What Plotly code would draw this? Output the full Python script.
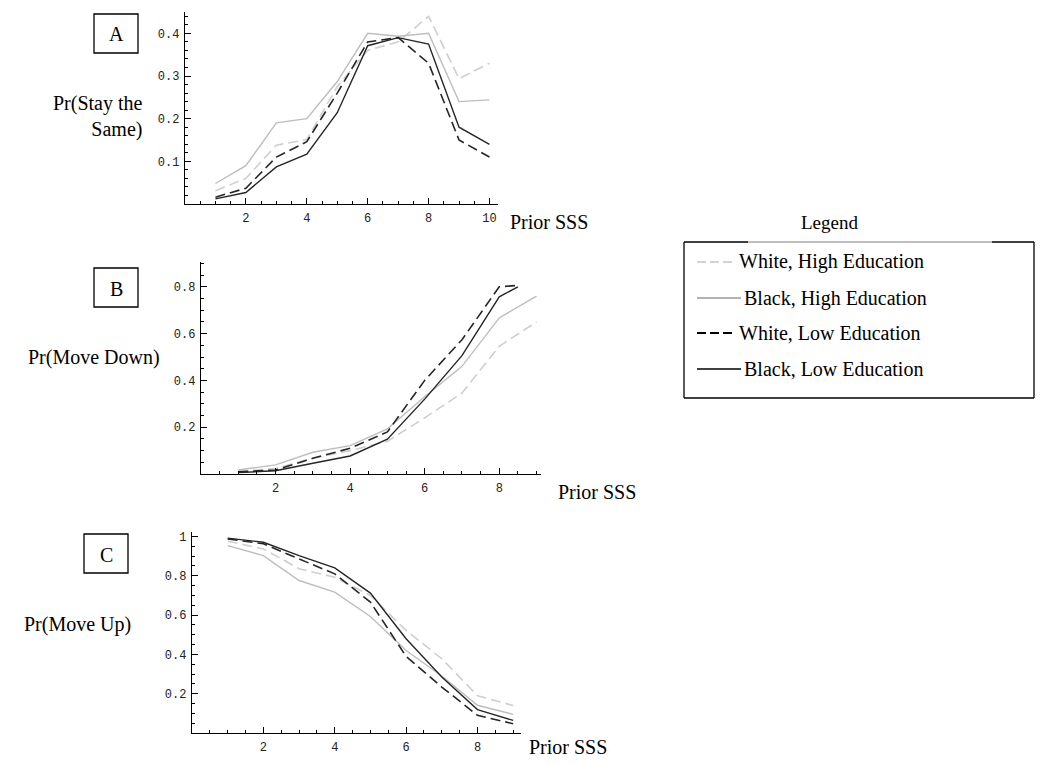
"""Transition probabilities by prior SSS, three stacked panels"""
import plotly.graph_objects as go

W, H = 1050, 765
PAGE_PAD = 8  # browser default body margin around the plot div

# Series order: White High Ed, Black High Ed, White Low Ed, Black Low Ed
series_names = ["White, High Education", "Black, High Education",
                "White, Low Education", "Black, Low Education"]

# Panel A: Pr(Stay the Same)
a_x = [1, 2, 3, 4, 5, 6, 7, 8, 9, 10]
a_white_high = [0.031, 0.060, 0.138, 0.151, 0.275, 0.360, 0.380, 0.440, 0.294, 0.330]
a_black_high = [0.048, 0.090, 0.190, 0.200, 0.287, 0.400, 0.393, 0.400, 0.240, 0.244]
a_white_low = [0.016, 0.037, 0.110, 0.146, 0.260, 0.380, 0.390, 0.330, 0.150, 0.110]
a_black_low = [0.012, 0.027, 0.087, 0.117, 0.214, 0.371, 0.390, 0.375, 0.180, 0.140]

# Panel B: Pr(Move Down) (dark lines leave the frame past x = 8.5)
b_x = [1, 2, 3, 4, 5, 6, 7, 8, 9]
b_x_dark = [1, 2, 3, 4, 5, 6, 7, 8, 8.5]
b_white_high = [0.010, 0.024, 0.067, 0.100, 0.140, 0.240, 0.346, 0.546, 0.650]
b_black_high = [0.017, 0.039, 0.093, 0.121, 0.193, 0.330, 0.460, 0.667, 0.760]
b_white_low = [0.009, 0.017, 0.067, 0.110, 0.180, 0.400, 0.574, 0.800, 0.806]
b_black_low = [0.006, 0.014, 0.046, 0.077, 0.149, 0.320, 0.506, 0.757, 0.800]

# Panel C: Pr(Move Up)
c_x = [1, 2, 3, 4, 5, 6, 7, 8, 9]
c_white_high = [0.976, 0.937, 0.836, 0.793, 0.700, 0.522, 0.378, 0.190, 0.140]
c_black_high = [0.954, 0.903, 0.776, 0.717, 0.593, 0.420, 0.290, 0.141, 0.095]
c_white_low = [0.988, 0.963, 0.886, 0.810, 0.666, 0.390, 0.234, 0.090, 0.047]
c_black_low = [0.992, 0.971, 0.903, 0.840, 0.712, 0.480, 0.285, 0.119, 0.064]

x_ticks_a = [2, 4, 6, 8, 10]
x_ticks_bc = [2, 4, 6, 8]
y_ticks_a = [0.1, 0.2, 0.3, 0.4]
y_ticks_b = [0.2, 0.4, 0.6, 0.8]
y_ticks_c = [0.2, 0.4, 0.6, 0.8, 1]

LIGHT_DASH = "#cfcfcf"
LIGHT_SOLID = "#bdbdbd"
DARK = "#262626"
DASH = "10px,5px"
SERIF = "Liberation Serif"
MONO = "Liberation Mono"


def px(x):
    return (x - PAGE_PAD) / W


def py(y):
    return 1 - (y - PAGE_PAD) / H


styles = [
    dict(color=LIGHT_DASH, width=1.6, dash=DASH),
    dict(color=LIGHT_SOLID, width=1.4),
    dict(color=DARK, width=1.6, dash=DASH),
    dict(color=DARK, width=1.4),
]

fig = go.Figure()

panels = [
    ("", [a_x, a_x, a_x, a_x], [a_white_high, a_black_high, a_white_low, a_black_low]),
    ("2", [b_x, b_x, b_x_dark, b_x_dark], [b_white_high, b_black_high, b_white_low, b_black_low]),
    ("3", [c_x, c_x, c_x, c_x], [c_white_high, c_black_high, c_white_low, c_black_low]),
]
for suffix, xs, ys in panels:
    for name, x, y, style in zip(series_names, xs, ys, styles):
        fig.add_trace(go.Scatter(x=x, y=y, mode="lines", name=name, line=style,
                                 xaxis="x" + suffix, yaxis="y" + suffix,
                                 showlegend=False, hoverinfo="skip"))


def axis_style(tickvals, minor_dtick):
    return dict(
        showline=True, linecolor="black", linewidth=1.3,
        showgrid=False, zeroline=False,
        ticks="inside", ticklen=6, tickwidth=1.3, tickcolor="black",
        tickvals=tickvals, ticklabelstandoff=2,
        tickfont=dict(family=MONO, size=12, color="#222222"),
        minor=dict(dtick=minor_dtick, tick0=0, ticks="inside", ticklen=3,
                   tickwidth=1.2, tickcolor="black", showgrid=False),
        fixedrange=True,
    )


fig.update_layout(
    width=W, height=H,
    margin=dict(l=0, r=0, t=0, b=0),
    paper_bgcolor="white", plot_bgcolor="white",
    xaxis=dict(domain=[px(185), px(498)], range=[0, 10.28], anchor="y",
               **axis_style(x_ticks_a, 0.5)),
    yaxis=dict(domain=[py(204), py(12)], range=[0, 0.45], anchor="x",
               **axis_style(y_ticks_a, 0.02)),
    xaxis2=dict(domain=[px(201), px(541)], range=[0, 9.12], anchor="y2",
                **axis_style(x_ticks_bc, 0.5)),
    yaxis2=dict(domain=[py(474), py(262)], range=[0, 0.906], anchor="x2",
                **axis_style(y_ticks_b, 0.05)),
    xaxis3=dict(domain=[px(192), px(521)], range=[0, 9.22], anchor="y3",
                **axis_style(x_ticks_bc, 0.5)),
    yaxis3=dict(domain=[py(733), py(532)], range=[0, 1.023], anchor="x3",
                **axis_style(y_ticks_c, 0.05)),
)

shapes = []
annotations = []


def text(s, x, y, xanchor="left", align="left", size=20):
    annotations.append(dict(text=s, x=px(x), y=py(y), xref="paper", yref="paper",
                            xanchor=xanchor, yanchor="middle", align=align,
                            showarrow=False,
                            font=dict(family=SERIF, size=size, color="black")))


# Panel letter boxes
for letter, (x0, y0, x1, y1) in zip("ABC", [(94, 14, 138, 53), (94, 268, 138, 307),
                                           (84, 534, 128, 573)]):
    shapes.append(dict(type="rect", xref="paper", yref="paper",
                       x0=px(x0), y0=py(y1), x1=px(x1), y1=py(y0),
                       line=dict(color="black", width=1.3)))
    text(letter, (x0 + x1) / 2, (y0 + y1) / 2 + 1, xanchor="center", align="center")

# Axis titles
text("Pr(Stay the<br>Same)", 145, 117, xanchor="right", align="right")
text("Pr(Move Down)", 94, 358, xanchor="center", align="center")
text("Pr(Move Up)", 77, 624, xanchor="center", align="center")
text("Prior SSS", 508, 222)
text("Prior SSS", 556, 492)
text("Prior SSS", 527, 747)

# Hand-drawn legend box
text("Legend", 829, 222, xanchor="center", align="center", size=19)
for xa, xb, col in [(684, 748, "black"), (748, 992, "#a8a8a8"), (992, 1034, "black")]:
    shapes.append(dict(type="line", xref="paper", yref="paper",
                       x0=px(xa), x1=px(xb), y0=py(242), y1=py(242),
                       line=dict(color=col, width=1.3)))
for xa, ya, xb, yb in [(684, 242, 684, 398), (1034, 242, 1034, 398), (684, 398, 1034, 398)]:
    shapes.append(dict(type="line", xref="paper", yref="paper",
                       x0=px(xa), x1=px(xb), y0=py(ya), y1=py(yb),
                       line=dict(color="black", width=1.3)))

legend_rows = [262, 298, 333, 369]
legend_text_x = [737, 742, 737, 742]
legend_styles = [
    dict(color="#c4c4c4", width=1.3, dash="9px,4px"),
    dict(color="#9a9a9a", width=1.3),
    dict(color="black", width=1.8, dash="9px,4px"),
    dict(color="black", width=1.6),
]
for name, yrow, xt, st in zip(series_names, legend_rows, legend_text_x, legend_styles):
    shapes.append(dict(type="line", xref="paper", yref="paper",
                       x0=px(697), x1=px(xt - 1), y0=py(yrow), y1=py(yrow), line=st))
    text(name, xt, yrow)

fig.update_layout(shapes=shapes, annotations=annotations)

fig.write_html("out.html")
